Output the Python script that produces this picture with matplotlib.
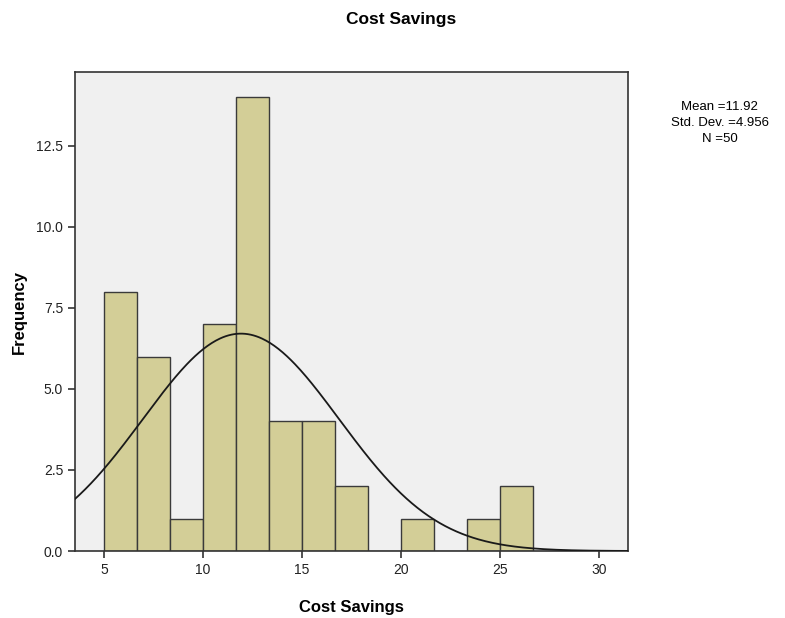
import numpy as np
import matplotlib
matplotlib.use('Agg')
import matplotlib.pyplot as plt

plt.rcParams['font.family'] = ['Liberation Sans', 'DejaVu Sans']

# histogram data
bin_edges = [5, 6.667, 8.333, 10, 11.667, 13.333, 15, 16.667, 18.333, 20, 21.667, 23.333, 25, 26.667]
counts = [8, 6, 1, 7, 14, 4, 4, 2, 0, 1, 0, 1, 2]
mean = 11.92
std = 4.956
n = 50
x_ticks = [5, 10, 15, 20, 25, 30]
y_ticks = [0.0, 2.5, 5.0, 7.5, 10.0, 12.5]

fig = plt.figure(figsize=(7.85, 6.18), dpi=100)
ax = fig.add_axes([0.0955, 0.1084, 0.7045, 0.775])
ax.set_facecolor('#f0f0f0')

edges = np.array(bin_edges)
widths = np.diff(edges)
ax.bar(edges[:-1], counts, width=widths, align='edge', color='#d3ce97',
       edgecolor='#3a3a3a', linewidth=1.0, zorder=2)

# normal curve scaled to counts
bw = widths.mean()
xs = np.linspace(3.5, 31.5, 400)
ys = n * bw / (std * np.sqrt(2 * np.pi)) * np.exp(-0.5 * ((xs - mean) / std) ** 2)
ax.plot(xs, ys, color='#1a1a1a', linewidth=1.3, zorder=3)

ax.set_xlim(3.54, 31.46)
ax.set_ylim(0, 14.78)
ax.set_xticks(x_ticks)
ax.set_yticks(y_ticks)
ax.set_yticklabels([f'{v:.1f}' for v in y_ticks])
ax.tick_params(labelsize=10, color='#333333', length=5, width=1.2, labelcolor='#222222')
for s in ax.spines.values():
    s.set_color('#333333')
    s.set_linewidth(1.2)

ax.set_xlabel('Cost Savings', fontsize=12, fontweight='bold', labelpad=17)
ax.set_ylabel('Frequency', fontsize=12, fontweight='bold', labelpad=7)
fig.suptitle('Cost Savings', x=0.5115, y=0.98, fontsize=12.5, fontweight='bold')

fig.text(0.917, 0.801, f'Mean ={mean}\nStd. Dev. ={std}\nN ={n}',
         ha='center', va='center', fontsize=9.5, linespacing=1.4)

fig.savefig('out.png', dpi=100)
